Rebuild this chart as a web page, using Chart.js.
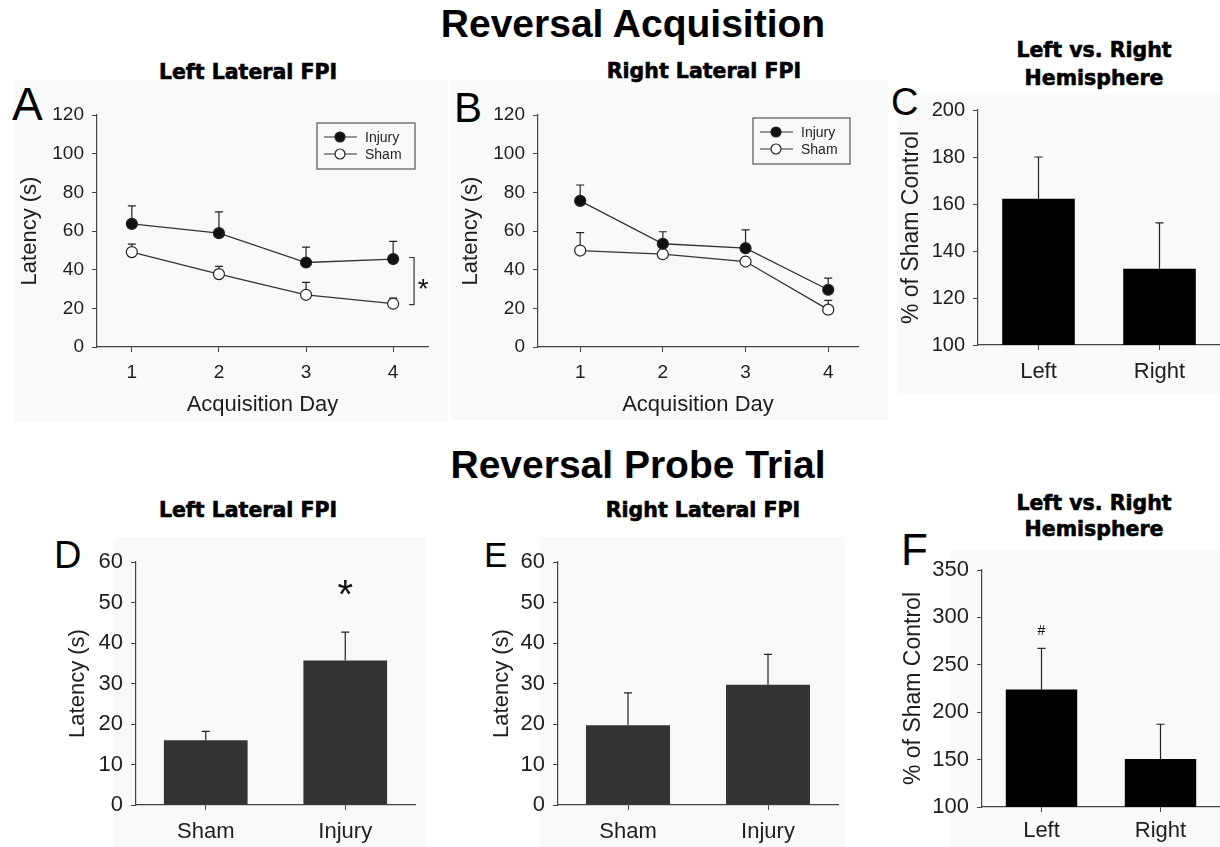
<!DOCTYPE html>
<html>
<head>
<meta charset="utf-8">
<script src="https://cdn.jsdelivr.net/npm/chart.js@4.4.0/dist/chart.umd.min.js"></script>
<style>
  body { margin: 0; background: #fff; width: 1220px; height: 847px; position: relative; overflow: hidden; }
  #deco { position: absolute; left: 0; top: 0; }
  canvas { position: absolute; }
</style>
</head>
<body>
<svg id="deco" width="1220" height="847" font-family="'Liberation Sans', Arial, sans-serif">
  <!-- faint panel backgrounds -->
  <g fill="#f9f9f9">
    <rect x="13" y="80" width="435" height="342"/>
    <rect x="450" y="80" width="438" height="340"/>
    <rect x="897" y="95" width="323" height="300"/>
    <rect x="113" y="537" width="314" height="310"/>
    <rect x="540" y="537" width="305" height="310"/>
    <rect x="950" y="550" width="270" height="297"/>
  </g>
  <g font-weight="bold" font-size="39" text-anchor="middle" fill="#000">
    <text x="633" y="37">Reversal Acquisition</text>
    <text x="638" y="478">Reversal Probe Trial</text>
  </g>
  <g font-family="'DejaVu Sans', sans-serif" font-weight="bold" font-size="20.5" text-anchor="middle" fill="#000" stroke="#000" stroke-width="0.6">
    <text x="248" y="79">Left Lateral FPI</text>
    <text x="704" y="78">Right Lateral FPI</text>
    <text x="1094" y="57">Left vs. Right</text>
    <text x="1094" y="85">Hemisphere</text>
    <text x="248" y="517">Left Lateral FPI</text>
    <text x="703" y="517">Right Lateral FPI</text>
    <text x="1094" y="510">Left vs. Right</text>
    <text x="1094" y="536">Hemisphere</text>
  </g>
  <g fill="#000">
    <text x="12" y="120" font-size="46">A</text>
    <text x="454" y="122" font-size="42">B</text>
    <text x="891" y="115" font-size="38">C</text>
    <text x="54" y="568" font-size="38">D</text>
    <text x="484" y="567" font-size="35">E</text>
    <text x="901" y="565" font-size="44">F</text>
  </g>
</svg>
<canvas id="chartA"></canvas>
<canvas id="chartB"></canvas>
<canvas id="chartC"></canvas>
<canvas id="chartD"></canvas>
<canvas id="chartE"></canvas>
<canvas id="chartF"></canvas>
<script>
'use strict'
// values (mean and SEM, upper error bar only)
let days = [1, 2, 3, 4];
let leftInjuryMean = [63.7, 58.9, 43.7, 45.5];
let leftInjurySem = [9.3, 11.0, 8.0, 9.1];
let leftShamMean = [49.1, 37.7, 27.0, 22.4];
let leftShamSem = [4.1, 4.0, 6.4, 2.9];
let rightInjuryMean = [75.6, 53.4, 51.1, 29.6];
let rightInjurySem = [8.2, 6.2, 9.5, 6.0];
let rightShamMean = [49.9, 48.0, 44.2, 19.3];
let rightShamSem = [9.3, 2.0, 1.5, 4.8];

let hemiLabels = ['Left', 'Right'];
let acqPctMean = [162.2, 132.4];
let acqPctSem = [17.8, 19.6];

let groupLabels = ['Sham', 'Injury'];
let probeLeftMean = [16.0, 35.7];
let probeLeftSem = [2.2, 7.0];
let probeRightMean = [19.7, 29.7];
let probeRightSem = [8.0, 7.5];
let probePctMean = [223.9, 150.7];
let probePctSem = [43.4, 36.6];

const FONT = "'Liberation Sans', Arial, sans-serif";
const INK = '#1e1e1e';
const AXIS = '#444';

// error bars: line from the mark up to mean + sem, with a small cap
const errorBars = {
    id: 'errorBars',
    beforeDatasetsDraw(chart) {
        let ctx = chart.ctx;
        let yS = chart.scales.y;
        chart.data.datasets.forEach((ds, i) => {
            if (!ds.sem) return;
            let meta = chart.getDatasetMeta(i);
            meta.data.forEach((el, j) => {
                let v = typeof ds.data[j] === 'object' ? ds.data[j].y : ds.data[j];
                let top = yS.getPixelForValue(v + ds.sem[j]);
                ctx.save();
                ctx.strokeStyle = '#222';
                ctx.lineWidth = 1.2;
                ctx.beginPath();
                ctx.moveTo(el.x, el.y);
                ctx.lineTo(el.x, top);
                ctx.moveTo(el.x - 4, top);
                ctx.lineTo(el.x + 4, top);
                ctx.stroke();
                ctx.restore();
            });
        });
    }
};

// significance marks, bracket and in-plot legend
const extras = {
    id: 'extras',
    afterDraw(chart, args, opts) {
        let ctx = chart.ctx;
        let xS = chart.scales.x;
        let yS = chart.scales.y;
        let area = chart.chartArea;
        ctx.save();
        (opts.marks || []).forEach(m => {
            ctx.fillStyle = '#111';
            ctx.font = m.size + 'px ' + FONT;
            ctx.textAlign = 'center';
            ctx.textBaseline = 'alphabetic';
            ctx.fillText(m.text, xS.getPixelForValue(m.x), yS.getPixelForValue(m.y) + m.rise * m.size);
        });
        if (opts.bracket) {
            let b = opts.bracket;
            let bx = xS.getPixelForValue(b.x);
            let y0 = yS.getPixelForValue(b.y0);
            let y1 = yS.getPixelForValue(b.y1);
            ctx.strokeStyle = '#333';
            ctx.lineWidth = 1.2;
            ctx.beginPath();
            ctx.moveTo(bx - 5, y0);
            ctx.lineTo(bx, y0);
            ctx.lineTo(bx, y1);
            ctx.lineTo(bx - 5, y1);
            ctx.stroke();
        }
        if (opts.legend) {
            let L = opts.legend;
            let lx = area.right - L.dx - L.w;
            let ly = area.top + L.dy;
            ctx.strokeStyle = '#555';
            ctx.lineWidth = 1.2;
            ctx.strokeRect(lx, ly, L.w, L.h);
            chart.data.datasets.forEach((ds, i) => {
                let iy = ly + 14 + i * 17;
                ctx.strokeStyle = '#333';
                ctx.beginPath();
                ctx.moveTo(lx + 7, iy);
                ctx.lineTo(lx + 40, iy);
                ctx.stroke();
                ctx.beginPath();
                ctx.arc(lx + 23, iy, 5, 0, Math.PI * 2);
                ctx.fillStyle = ds.pointBackgroundColor;
                ctx.fill();
                ctx.strokeStyle = '#222';
                ctx.stroke();
                ctx.fillStyle = INK;
                ctx.font = '14px ' + FONT;
                ctx.textAlign = 'left';
                ctx.textBaseline = 'middle';
                ctx.fillText(ds.label, lx + 48, iy + 1);
            });
        }
        ctx.restore();
    }
};

function placeCanvas(id, box) {
    let cv = document.getElementById(id);
    cv.width = box.w;
    cv.height = box.h;
    cv.style.left = box.x + 'px';
    cv.style.top = box.y + 'px';
    cv.style.width = box.w + 'px';
    cv.style.height = box.h + 'px';
    return cv;
}

function yScale(p) {
    return {
        min: p.yMin,
        max: p.yMax,
        border: { color: AXIS, width: 1.2 },
        grid: { drawOnChartArea: false, color: AXIS, tickLength: 5 },
        ticks: { stepSize: p.yStep, color: INK, padding: 8, font: { family: FONT, size: p.yTick } },
        title: { display: true, text: p.yTitle, color: INK, font: { family: FONT, size: p.yTitleSize }, padding: { top: p.yTitlePad, bottom: 0 } },
        afterFit: s => { s.width = p.area.l - p.box.x; }
    };
}

function xScale(p) {
    let x = {
        border: { color: AXIS, width: 1.2 },
        grid: { drawOnChartArea: false, color: AXIS, tickLength: 5, offset: false },
        ticks: { color: INK, padding: p.xPad, font: { family: FONT, size: p.xTick }, maxRotation: 0 },
        afterFit: s => { s.height = p.box.y + p.box.h - p.area.b; }
    };
    if (p.line) {
        x.type = 'linear';
        x.min = p.xMin;
        x.max = p.xMax;
        x.afterBuildTicks = s => { s.ticks = days.map(d => ({ value: d })); };
        x.title = { display: true, text: 'Acquisition Day', color: INK, font: { family: FONT, size: 22 }, padding: { top: 0, bottom: 4 } };
    } else {
        x.offset = true;
    }
    return x;
}

function baseOptions(p, extraOpts) {
    return {
        responsive: false,
        animation: false,
        events: [],
        layout: { padding: { top: p.area.t - p.box.y, right: p.box.x + p.box.w - p.area.r, left: 0, bottom: 0 } },
        scales: { x: xScale(p), y: yScale(p) },
        plugins: { legend: { display: false }, tooltip: { enabled: false }, extras: extraOpts }
    };
}

function lineChart(id, p, injMean, injSem, shamMean, shamSem, extraOpts) {
    let cv = placeCanvas(id, p.box);
    let pts = arr => days.map((d, i) => ({ x: d, y: arr[i] }));
    let style = fill => ({
        borderColor: '#333', borderWidth: 1.3, pointRadius: 5.5, pointBorderWidth: 1.2,
        pointBorderColor: '#222', pointBackgroundColor: fill, tension: 0
    });
    new Chart(cv, {
        type: 'line',
        data: {
            datasets: [
                Object.assign({ label: 'Injury', data: pts(injMean), sem: injSem }, style('#111')),
                Object.assign({ label: 'Sham', data: pts(shamMean), sem: shamSem }, style('#fff'))
            ]
        },
        options: baseOptions(Object.assign({ line: true }, p), extraOpts),
        plugins: [errorBars, extras]
    });
}

function barChart(id, p, labels, means, sems, color, extraOpts) {
    let cv = placeCanvas(id, p.box);
    new Chart(cv, {
        type: 'bar',
        data: {
            labels: labels,
            datasets: [{ data: means, sem: sems, backgroundColor: color, borderColor: color, borderWidth: 0, barPercentage: 0.6, categoryPercentage: 1 }]
        },
        options: baseOptions(p, extraOpts),
        plugins: [errorBars, extras]
    });
}

// panel A
lineChart('chartA', {
    box: { x: 10, y: 78, w: 438, h: 344 }, area: { l: 97, t: 115, r: 428, b: 347 },
    xMin: 0.6, xMax: 4.4, yMin: 0, yMax: 120, yStep: 20,
    yTitle: 'Latency (s)', yTitleSize: 22, yTitlePad: 7, yTick: 19, xTick: 19, xPad: 9
}, leftInjuryMean, leftInjurySem, leftShamMean, leftShamSem, {
    legend: { dx: 13, dy: 8, w: 98, h: 46 },
    bracket: { x: 4.24, y0: 46.3, y1: 21.9 },
    marks: [{ text: '*', x: 4.345, y: 33.6, size: 28, rise: 0.57 }]
});

// panel B
lineChart('chartB', {
    box: { x: 452, y: 78, w: 436, h: 344 }, area: { l: 538, t: 115, r: 858, b: 347 },
    xMin: 0.49, xMax: 4.36, yMin: 0, yMax: 120, yStep: 20,
    yTitle: 'Latency (s)', yTitleSize: 22, yTitlePad: 6, yTick: 19, xTick: 19, xPad: 9
}, rightInjuryMean, rightInjurySem, rightShamMean, rightShamSem, {
    legend: { dx: 8, dy: 3, w: 97, h: 46 }
});

// panel C
barChart('chartC', {
    box: { x: 893, y: 90, w: 327, h: 305 }, area: { l: 978, t: 107, r: 1220, b: 345 },
    yMin: 100, yMax: 200, yStep: 20,
    yTitle: '% of Sham Control', yTitleSize: 23, yTitlePad: 5, yTick: 20, xTick: 22, xPad: 9
}, hemiLabels, acqPctMean, acqPctSem, '#000', {});

// panel D
barChart('chartD', {
    box: { x: 50, y: 537, w: 380, h: 310 }, area: { l: 136, t: 562, r: 415, b: 805 },
    yMin: 0, yMax: 60, yStep: 10,
    yTitle: 'Latency (s)', yTitleSize: 22, yTitlePad: 15, yTick: 22, xTick: 22, xPad: 9
}, groupLabels, probeLeftMean, probeLeftSem, '#333', {
    marks: [{ text: '*', x: 1, y: 54.2, size: 40, rise: 0.57 }]
});

// panel E
barChart('chartE', {
    box: { x: 470, y: 537, w: 380, h: 310 }, area: { l: 558, t: 562, r: 838, b: 805 },
    yMin: 0, yMax: 60, yStep: 10,
    yTitle: 'Latency (s)', yTitleSize: 22, yTitlePad: 19, yTick: 22, xTick: 22, xPad: 9
}, groupLabels, probeRightMean, probeRightSem, '#333', {});

// panel F
barChart('chartF', {
    box: { x: 890, y: 545, w: 330, h: 302 }, area: { l: 982, t: 570, r: 1220, b: 807 },
    yMin: 100, yMax: 350, yStep: 50,
    yTitle: '% of Sham Control', yTitleSize: 23, yTitlePad: 10, yTick: 22, xTick: 22, xPad: 6
}, hemiLabels, probePctMean, probePctSem, '#000', {
    marks: [{ text: '#', x: 0, y: 286.2, size: 14, rise: 0.35 }]
});
</script>
</body>
</html>
